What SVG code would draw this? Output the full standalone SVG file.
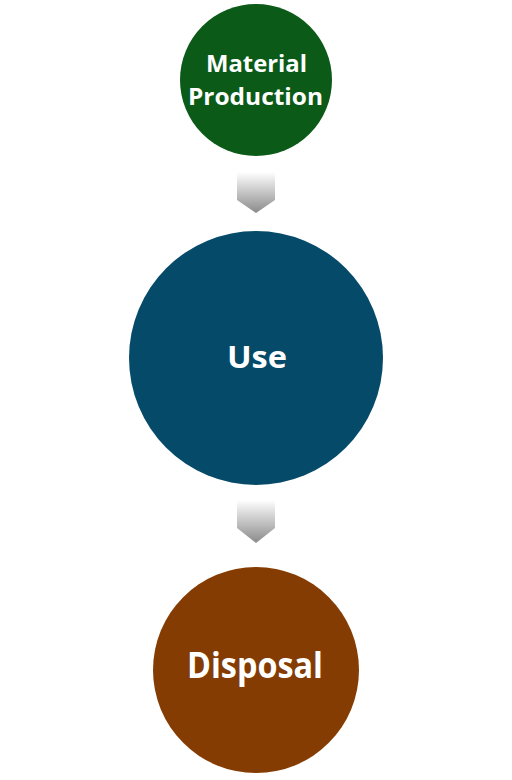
<svg xmlns="http://www.w3.org/2000/svg" width="512" height="780" viewBox="0 0 512 780">
<defs>
<linearGradient id="ag" x1="0" y1="0" x2="0" y2="1">
<stop offset="0" stop-color="#ffffff"/>
<stop offset="1" stop-color="#8a8a8a"/>
</linearGradient>
<style>
.t{font-family:"Open Sans","Liberation Sans",sans-serif;font-weight:700;fill:#ffffff;text-anchor:middle}
</style>
</defs>
<rect width="512" height="780" fill="#ffffff"/>
<g id="connectors">
<polygon points="237,172 275,172 275,200 256,213 237,200" fill="url(#ag)"/>
<polygon points="237,500 275,500 275,528 256,543 237,528" fill="url(#ag)"/>
</g>
<g id="material">
<circle cx="256" cy="80" r="76" fill="#0b5a18"/>
<text class="t" x="256.5" y="72" font-size="24" textLength="101" lengthAdjust="spacingAndGlyphs">Material</text>
<text class="t" x="255.5" y="105" font-size="24" textLength="135" lengthAdjust="spacingAndGlyphs">Production</text>
</g>
<g id="use">
<circle cx="256" cy="358" r="127" fill="#054a69"/>
<text class="t" x="257" y="368" font-size="31" textLength="60" lengthAdjust="spacingAndGlyphs">Use</text>
</g>
<g id="disposal">
<circle cx="256" cy="670" r="103" fill="#843c02"/>
<text class="t" x="255" y="678" font-size="35" textLength="136" lengthAdjust="spacingAndGlyphs">Disposal</text>
</g>
</svg>
